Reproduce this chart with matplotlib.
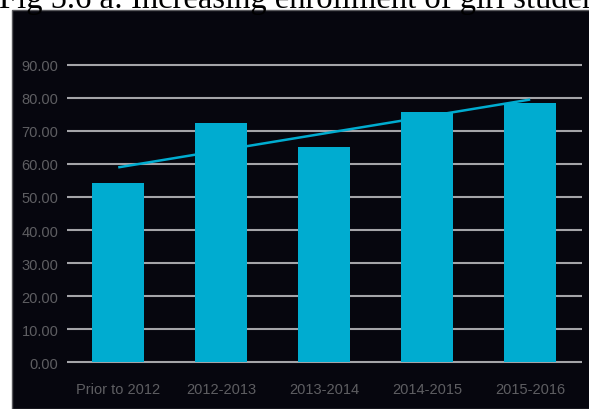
import numpy as np
import matplotlib
matplotlib.use('Agg')
import matplotlib.pyplot as plt
from matplotlib.patches import Rectangle

years = ['Prior to 2012', '2012-2013', '2013-2014', '2014-2015', '2015-2016']
enrolment = [54.3, 72.5, 65.2, 75.6, 78.4]
yticks = [0, 10, 20, 30, 40, 50, 60, 70, 80, 90]

bar_col = '#00acd0'
bg = '#06060e'
txt_col = '#5e5e62'
lbl_font = ['Liberation Sans Narrow', 'Liberation Sans', 'DejaVu Sans']

fig = plt.figure(figsize=(5.89, 4.10), dpi=100)
fig.patch.set_facecolor('white')

# dark panel behind the chart
W, H = 589, 410
fig.patches.append(Rectangle((12 / W, 0), 1, (H - 11) / H, transform=fig.transFigure,
                             facecolor=bg, edgecolor='#58585c', lw=1, zorder=-5))

fig.text(-0.002, 1 - 8 / H, 'Fig 5.6 a: Increasing enrollment of girl students',
         family='Liberation Serif', fontsize=23.5, va='baseline', ha='left', color='black')

ax = fig.add_axes([66.7 / W, (H - 373.2) / H, 515 / W, 340.6 / H])
ax.set_facecolor('none')
x = np.arange(len(years))
ax.bar(x, enrolment, width=0.5, color=bar_col, zorder=3)

# linear trend line
k, b = np.polyfit(x, enrolment, 1)
ax.plot(x, k * x + b, color=bar_col, lw=1.8, zorder=4, solid_capstyle='butt')

ax.set_xlim(-0.5, 4.5)
ax.set_ylim(-3, 100)
ax.set_yticks(yticks)
ax.set_yticklabels(['%.2f' % v for v in yticks])
ax.set_xticks(x)
ax.set_xticklabels(years)
ax.grid(axis='y', color='#a4a4a8', lw=1.5, zorder=1)
ax.tick_params(length=0, colors=txt_col, labelsize=10.5)
ax.tick_params(axis='y', pad=6)
ax.tick_params(axis='x', pad=7)
for lab in ax.get_xticklabels() + ax.get_yticklabels():
    lab.set_family(lbl_font)
for s in ax.spines.values():
    s.set_visible(False)

fig.savefig('out.png', dpi=100, facecolor=fig.get_facecolor())
